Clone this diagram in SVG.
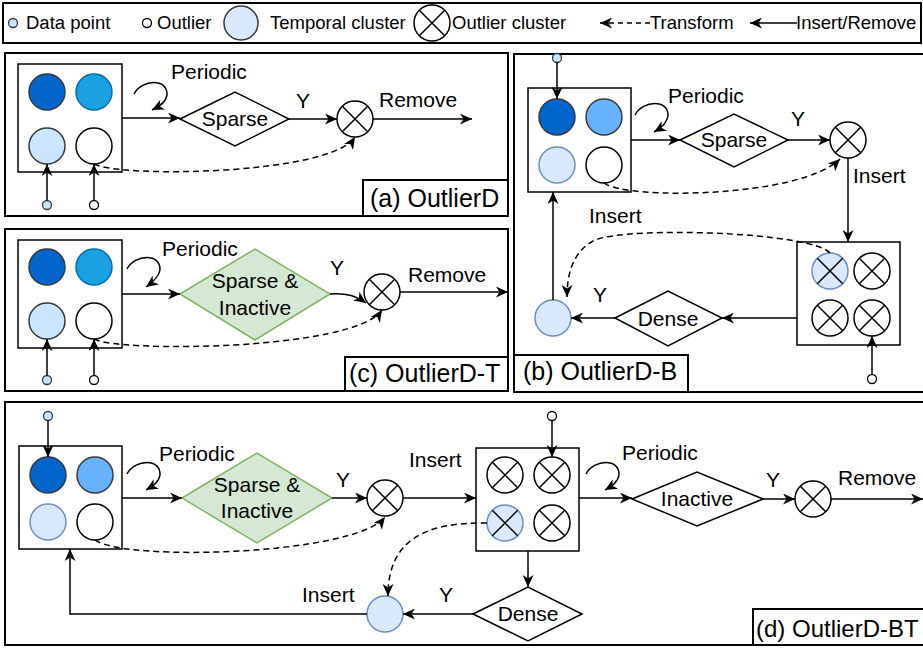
<svg xmlns="http://www.w3.org/2000/svg" xmlns:xlink="http://www.w3.org/1999/xlink" width="923" height="648" viewBox="0 0 923 648">
<style>
  text { font-family: "Liberation Sans", Arial, sans-serif; fill: #000; }
  .lbl { font-size: 21px; }
  .plbl { font-size: 25px; }
  .leg { font-size: 18.5px; }
  .mid { text-anchor: middle; }
  .panel { fill: #fff; stroke: #000; stroke-width: 2; }
  .box { fill: #fff; stroke: #000; stroke-width: 1.5; }
  .edge { fill: none; stroke: #000; stroke-width: 1.5; marker-end: url(#arr); }
  .dash { fill: none; stroke: #000; stroke-width: 1.5; stroke-dasharray: 6 4; marker-end: url(#arr); }
  .plain { fill: none; stroke: #000; stroke-width: 1.5; }
  .dia { fill: #fff; stroke: #000; stroke-width: 1.5; }
  .gdia { fill: #d5e8d4; stroke: #82b366; stroke-width: 1.5; }
  .c-dark { fill: #0066cc; stroke: #36393d; stroke-width: 1.5; }
  .c-mid1 { fill: #1ba1e2; stroke: #006eaf; stroke-width: 1.5; }
  .c-mid2 { fill: #66b2ff; stroke: #36393d; stroke-width: 1.5; }
  .c-lt1 { fill: #cce5ff; stroke: #36393d; stroke-width: 1.5; }
  .c-lt2 { fill: #dae8fc; stroke: #6c8ebf; stroke-width: 1.5; }
  .c-wh { fill: #fff; stroke: #000; stroke-width: 1.5; }
  .dot-lt { fill: #cce5ff; stroke: #36393d; stroke-width: 1.3; }
  .dot-wh { fill: #fff; stroke: #000; stroke-width: 1.3; }
  .xl { stroke: #000; stroke-width: 1.5; }
</style>
<defs>
  <marker id="arr" viewBox="0 0 12 11" refX="12" refY="5.5" markerWidth="12" markerHeight="11" markerUnits="userSpaceOnUse" orient="auto">
    <path d="M0,0 L12,5.5 L0,11 L3.5,5.5 z" fill="#000"/>
  </marker>
  <g id="xc">
    <circle r="18" fill="#fff" stroke="#000" stroke-width="1.5"/>
    <path d="M-12.7,-12.7 L12.7,12.7 M12.7,-12.7 L-12.7,12.7" class="xl"/>
  </g>
  <g id="xcl">
    <circle r="18" fill="#dae8fc" stroke="#6c8ebf" stroke-width="1.5"/>
    <path d="M-12.7,-12.7 L12.7,12.7 M12.7,-12.7 L-12.7,12.7" class="xl"/>
  </g>
</defs>

<!-- Legend -->
<g id="legend">
  <rect x="3" y="3" width="918" height="40" class="panel"/>
  <circle cx="13" cy="23" r="4.5" class="dot-lt"/>
  <text x="26" y="29" class="leg">Data point</text>
  <circle cx="147" cy="23" r="4.5" class="dot-wh"/>
  <text x="157" y="29" class="leg">Outlier</text>
  <circle cx="241" cy="23" r="17" class="c-lt2" style="stroke:#36393d"/>
  <text x="270" y="29" class="leg">Temporal cluster</text>
  <use href="#xc" x="432" y="23"/>
  <text x="452" y="29" class="leg">Outlier cluster</text>
  <path d="M650,23 L600,23" class="dash" style="stroke-dasharray:5 4"/>
  <text x="650" y="29" class="leg">Transform</text>
  <path d="M797,23 L750,23" class="edge"/>
  <text x="796" y="29" class="leg">Insert/Remove</text>
</g>

<!-- Panel (a) -->
<g id="panel-a">
  <rect x="5" y="53" width="503" height="163" class="panel"/>
  <g id="a-store">
    <rect x="18" y="64" width="104" height="108" class="box"/>
    <circle cx="47" cy="92" r="18" class="c-dark"/>
    <circle cx="94" cy="92" r="18" class="c-mid1"/>
    <circle cx="47" cy="146" r="18" class="c-lt1"/>
    <circle cx="94" cy="146" r="18" class="c-wh"/>
  </g>
  <g id="a-dp"><circle cx="47" cy="205" r="4.5" class="dot-lt"/></g>
  <g id="a-op"><circle cx="94" cy="205" r="4.5" class="dot-wh"/></g>
  <g id="a-sparse">
    <polygon points="180,119 235,92 289,119 235,146" class="dia"/>
    <text x="235" y="126" class="lbl mid">Sparse</text>
  </g>
  <g id="a-oc"><use href="#xc" x="355" y="119"/></g>
  <g id="a-label">
    <rect x="363" y="180" width="145" height="36" class="panel"/>
    <text x="370" y="207" class="plbl">(a) OutlierD</text>
  </g>
  <g id="a-edges">
    <path d="M47,200.5 L47,164" class="edge"/>
    <path d="M94,200.5 L94,164" class="edge"/>
    <path d="M122,118 L180,118" class="edge"/>
    <path d="M134,94 C142,79 168,78 167,95 C166,102 160,106 152,110" class="edge"/>
    <path d="M289,119 L337,119" class="edge"/>
    <path d="M373,119 L472,119" class="edge"/>
    <path d="M94,164 C120,178 330,175 355,137" class="dash"/>
  </g>
  <text x="171" y="79" class="lbl">Periodic</text>
  <text x="303" y="108" class="lbl mid">Y</text>
  <text x="379" y="107" class="lbl">Remove</text>
</g>

<!-- Panel (c) -->
<g id="panel-c">
  <rect x="5" y="229" width="503" height="162" class="panel"/>
  <g id="c-store">
    <rect x="18" y="240" width="104" height="108" class="box"/>
    <circle cx="47" cy="267" r="18" class="c-dark"/>
    <circle cx="94" cy="267" r="18" class="c-mid1"/>
    <circle cx="47" cy="321" r="18" class="c-lt1"/>
    <circle cx="94" cy="321" r="18" class="c-wh"/>
  </g>
  <g id="c-dp"><circle cx="47" cy="380" r="4.5" class="dot-lt"/></g>
  <g id="c-op"><circle cx="94" cy="380" r="4.5" class="dot-wh"/></g>
  <g id="c-sparse">
    <polygon points="180,294 255,249 330,294 255,340" class="gdia"/>
    <text x="255" y="288" class="lbl mid">Sparse &amp;</text>
    <text x="255" y="315" class="lbl mid">Inactive</text>
  </g>
  <g id="c-oc"><use href="#xc" x="382" y="292"/></g>
  <g id="c-label">
    <rect x="345" y="357" width="163" height="34" class="panel"/>
    <text x="349" y="382" class="plbl">(c) OutlierD-T</text>
  </g>
  <g id="c-edges">
    <path d="M47,375.5 L47,339" class="edge"/>
    <path d="M94,375.5 L94,339" class="edge"/>
    <path d="M122,294 L180,294" class="edge"/>
    <path d="M127,269 C135,254 161,253 160,270 C159,277 153,282 146,287" class="edge"/>
    <path d="M330,294 C348,293 356,296 366,303" class="edge"/>
    <path d="M400,292 L508,292" class="edge"/>
    <path d="M94,339 C120,353 355,350 382,310" class="dash"/>
  </g>
  <text x="162" y="256" class="lbl">Periodic</text>
  <text x="337" y="275" class="lbl mid">Y</text>
  <text x="408" y="282" class="lbl">Remove</text>
</g>

<!-- Panel (b) -->
<g id="panel-b">
  <rect x="514" y="54" width="420" height="338" class="panel"/>
  <g id="b-store">
    <rect x="528" y="88" width="103" height="104" class="box"/>
    <circle cx="557" cy="117" r="18" class="c-dark"/>
    <circle cx="604" cy="117" r="18" class="c-mid2"/>
    <circle cx="557" cy="165" r="18" class="c-lt2"/>
    <circle cx="604" cy="165" r="18" class="c-wh"/>
  </g>
  <g id="b-dp"><circle cx="557" cy="58" r="4.5" class="dot-lt"/></g>
  <g id="b-sparse">
    <polygon points="680,140 734,114 788,140 734,167" class="dia"/>
    <text x="734" y="147" class="lbl mid">Sparse</text>
  </g>
  <g id="b-oc"><use href="#xc" x="848" y="140"/></g>
  <g id="b-ostore">
    <rect x="797" y="242" width="103" height="103" class="box"/>
    <use href="#xcl" x="830" y="271"/>
    <use href="#xc" x="872" y="271"/>
    <use href="#xc" x="830" y="318"/>
    <use href="#xc" x="872" y="318"/>
  </g>
  <g id="b-op"><circle cx="872" cy="379" r="4.5" class="dot-wh"/></g>
  <g id="b-dense">
    <polygon points="615,318 668,291 722,318 668,346" class="dia"/>
    <text x="668" y="326" class="lbl mid">Dense</text>
  </g>
  <g id="b-tc"><circle cx="553" cy="318" r="18" class="c-lt2"/></g>
  <g id="b-label">
    <rect x="514" y="355" width="174" height="37" class="panel"/>
    <text x="523" y="380" class="plbl">(b) OutlierD-B</text>
  </g>
  <g id="b-edges">
    <path d="M557,62.5 L557,99" class="edge"/>
    <path d="M631,140 L680,140" class="edge"/>
    <path d="M635,115 C643,100 669,99 668,116 C667,123 661,128 654,132" class="edge"/>
    <path d="M788,140 L830,140" class="edge"/>
    <path d="M848,158 L848,242" class="edge"/>
    <path d="M872,374.5 L872,336" class="edge"/>
    <path d="M797,318 L722,318" class="edge"/>
    <path d="M615,318 L571,318" class="edge"/>
    <path d="M553,300 L553,192" class="edge"/>
    <path d="M604,183 C625,200 800,198 840,159" class="dash"/>
    <path d="M830,253 C812,232 630,226 595,240 C575,250 567,270 567,297" class="dash"/>
  </g>
  <text x="668" y="103" class="lbl">Periodic</text>
  <text x="798" y="126" class="lbl mid">Y</text>
  <text x="853" y="183" class="lbl">Insert</text>
  <text x="589" y="223" class="lbl">Insert</text>
  <text x="600" y="302" class="lbl mid">Y</text>
</g>

<!-- Panel (d) -->
<g id="panel-d">
  <rect x="5" y="402" width="930" height="243" class="panel"/>
  <g id="d-store">
    <rect x="19" y="446" width="103" height="103" class="box"/>
    <circle cx="48" cy="475" r="18" class="c-dark"/>
    <circle cx="95" cy="475" r="18" class="c-mid2"/>
    <circle cx="48" cy="522" r="18" class="c-lt2"/>
    <circle cx="95" cy="522" r="18" class="c-wh"/>
  </g>
  <g id="d-dp"><circle cx="48" cy="416" r="4.5" class="dot-lt"/></g>
  <g id="d-sparse">
    <polygon points="182,498 257,453 332,498 257,543" class="gdia"/>
    <text x="257" y="492" class="lbl mid">Sparse &amp;</text>
    <text x="257" y="518" class="lbl mid">Inactive</text>
  </g>
  <g id="d-oc1"><use href="#xc" x="385" y="498"/></g>
  <g id="d-ostore">
    <rect x="476" y="448" width="103" height="103" class="box"/>
    <use href="#xc" x="505" y="475"/>
    <use href="#xc" x="552" y="475"/>
    <use href="#xcl" x="505" y="523"/>
    <use href="#xc" x="552" y="523"/>
  </g>
  <g id="d-op"><circle cx="552" cy="416" r="4.5" class="dot-wh"/></g>
  <g id="d-inactive">
    <polygon points="632,499 697,472 763,499 697,526" class="dia"/>
    <text x="697" y="506" class="lbl mid">Inactive</text>
  </g>
  <g id="d-oc2"><use href="#xc" x="813" y="499"/></g>
  <g id="d-dense">
    <polygon points="473,614 528,587 582,614 528,641" class="dia"/>
    <text x="528" y="621" class="lbl mid">Dense</text>
  </g>
  <g id="d-tc"><circle cx="385" cy="614" r="18" class="c-lt2"/></g>
  <g id="d-label">
    <rect x="753" y="609" width="180" height="36" class="panel"/>
    <text x="756" y="637" class="plbl" style="font-size:24px">(d) OutlierD-BT</text>
  </g>
  <g id="d-edges">
    <path d="M48,420.5 L48,457" class="edge"/>
    <path d="M122,498 L182,498" class="edge"/>
    <path d="M127,474 C135,459 161,458 160,475 C159,482 153,486 146,490" class="edge"/>
    <path d="M332,498 L367,498" class="edge"/>
    <path d="M403,498 L476,498" class="edge"/>
    <path d="M552,420.5 L552,457" class="edge"/>
    <path d="M586,474 C594,459 620,458 619,475 C618,482 612,486 605,490" class="edge"/>
    <path d="M579,498 L632,498" class="edge"/>
    <path d="M763,499 L795,499" class="edge"/>
    <path d="M831,499 L923,499" class="edge"/>
    <path d="M528,551 L528,587" class="edge"/>
    <path d="M473,614 L403,614" class="edge"/>
    <path d="M367,614 L70,614 L70,549" class="edge"/>
    <path d="M95,540 C125,562 355,555 385,517" class="dash"/>
    <path d="M487,523 C425,522 388,540 388,596" class="dash"/>
  </g>
  <text x="159" y="461" class="lbl">Periodic</text>
  <text x="343" y="487" class="lbl mid">Y</text>
  <text x="409" y="467" class="lbl">Insert</text>
  <text x="622" y="460" class="lbl">Periodic</text>
  <text x="773" y="487" class="lbl mid">Y</text>
  <text x="838" y="485" class="lbl">Remove</text>
  <text x="302" y="602" class="lbl">Insert</text>
  <text x="446" y="602" class="lbl mid">Y</text>
</g>
</svg>
